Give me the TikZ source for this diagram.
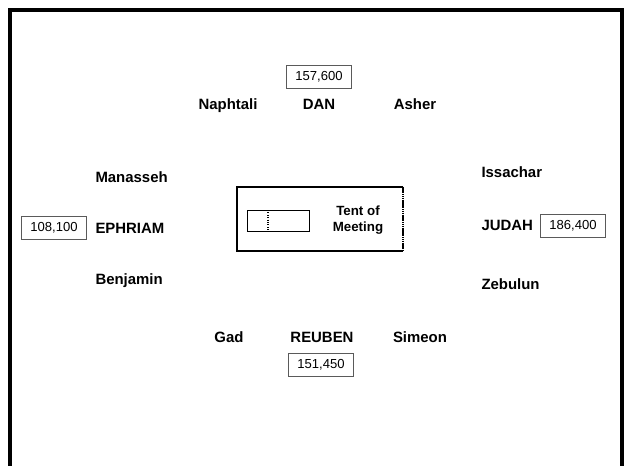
\documentclass[tikz,border=0pt]{standalone}
\usepackage{fontspec}
\setmainfont{Liberation Sans}

\tikzset{every picture/.style={line width=0.75pt}}
\tikzset{
  tribe/.style={font=\fontsize{11.2}{13}\selectfont\bfseries, inner sep=0pt, text height=8.1pt, text depth=0pt},
  census/.style={draw={rgb, 255:red, 90; green, 90; blue, 90}, line width=0.6pt, font=\fontsize{9.8}{12}\selectfont, inner xsep=6.5pt, minimum height=17pt}
}

\begin{document}
\begin{tikzpicture}[x=0.75pt,y=0.75pt,yscale=-1,xscale=1]
\useasboundingbox (0,0) rectangle (629,465);

%Shape: Frame (open at bottom)
\draw [line width=2.3pt]  (10,466) -- (10,10) -- (622,10) -- (622,466) ;

%Shape: Tent of Meeting
\draw [line width=1.3pt]  (403,187) -- (237,187) -- (237,251) -- (403,251) ;
\draw [line width=1.5pt, dash pattern=on 1pt off 0.4pt]  (403,186.5) -- (403,251.5) ;
%Shape: Holy place
\draw [line width=0.75pt]  (247,210) rectangle (309,231) ;
\draw [line width=0.8pt, densely dotted]  (268,210) -- (268,231) ;

% Text Node
\node [font=\fontsize{10}{12.5}\selectfont\bfseries, align=center] (tent) at (358,220) {Tent of\\Meeting};

% North
\node [census] (dancount) at (319,77) {157,600};
\node [tribe] (dan) at (319,104) {DAN};
\node [tribe] (naphtali) at (228,104) {Naphtali};
\node [tribe] (asher) at (415,104) {Asher};

% West
\node [census] (ephraimcount) at (54,228) {108,100};
\node [tribe, anchor=west] (ephraim) at (95,228) {EPHRIAM};
\node [tribe, anchor=west] (manasseh) at (95,177) {Manasseh};
\node [tribe, anchor=west] (benjamin) at (95,279) {Benjamin};

% East
\node [census] (judahcount) at (573,226) {186,400};
\node [tribe, anchor=west] (judah) at (481,225) {JUDAH};
\node [tribe, anchor=west] (issachar) at (481,172) {Issachar};
\node [tribe, anchor=west] (zebulun) at (481,284) {Zebulun};

% South
\node [tribe] (reuben) at (322,337) {REUBEN};
\node [census] (reubencount) at (321,365) {151,450};
\node [tribe] (gad) at (229,337) {Gad};
\node [tribe] (simeon) at (420,337) {Simeon};

\end{tikzpicture}
\end{document}
